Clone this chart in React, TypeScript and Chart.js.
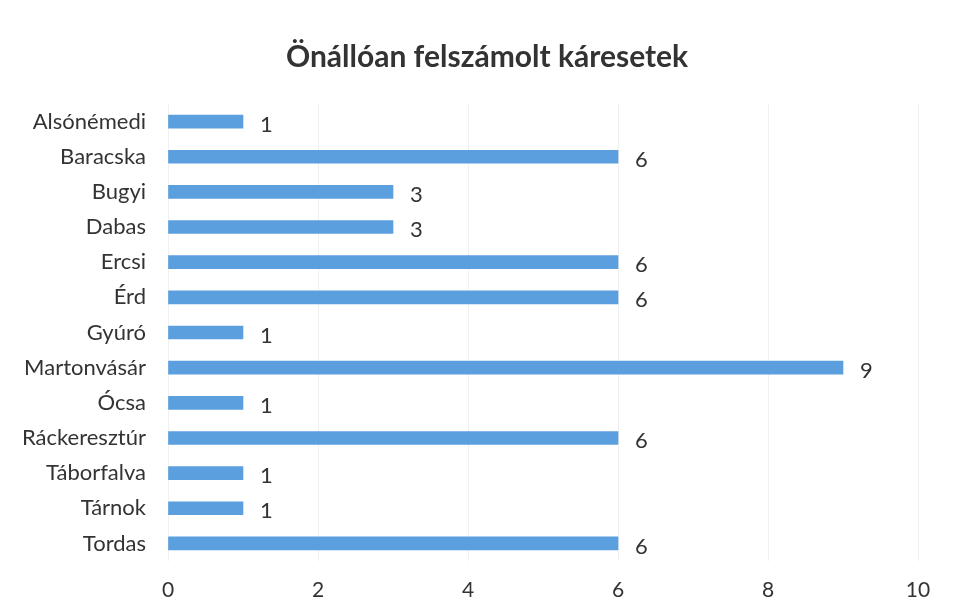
import React, { useEffect, useRef } from "react";
import { Chart, registerables } from "chart.js";

Chart.register(...registerables);

const title = "Önállóan felszámolt káresetek";
const categories = [
  "Alsónémedi",
  "Baracska",
  "Bugyi",
  "Dabas",
  "Ercsi",
  "Érd",
  "Gyúró",
  "Martonvásár",
  "Ócsa",
  "Ráckeresztúr",
  "Táborfalva",
  "Tárnok",
  "Tordas",
];
const values = [1, 6, 3, 3, 6, 6, 1, 9, 1, 6, 1, 1, 6];
const xTicks = [0, 2, 4, 6, 8, 10];

const FONT = "Lato, 'Open Sans', sans-serif";
const TEXT = "#333333";

const valueLabels = {
  id: "valueLabels",
  afterDatasetsDraw(chart: any) {
    const ctx = chart.ctx;
    const meta = chart.getDatasetMeta(0);
    ctx.save();
    ctx.font = `22px ${FONT}`;
    ctx.fillStyle = TEXT;
    ctx.textAlign = "left";
    ctx.textBaseline = "middle";
    meta.data.forEach((bar: any, i: number) => {
      ctx.fillText(String(values[i]), bar.x + 17, bar.y + 3);
    });
    ctx.restore();
  },
};

const titlePlugin = {
  id: "customTitle",
  afterDraw(chart: any) {
    const ctx = chart.ctx;
    ctx.save();
    ctx.font = `bold 30px ${FONT}`;
    ctx.fillStyle = TEXT;
    ctx.textAlign = "center";
    ctx.textBaseline = "middle";
    ctx.fillText(title, 487, 57);
    ctx.restore();
  },
};

export default function App() {
  const ref = useRef<HTMLCanvasElement>(null);
  useEffect(() => {
    if (!ref.current) return;
    const chart = new Chart(ref.current, {
      type: "bar",
      data: {
        labels: categories,
        datasets: [
          {
            data: values,
            backgroundColor: "#5B9FDF",
            borderWidth: 0,
            barThickness: 13,
          },
        ],
      },
      options: {
        indexAxis: "y",
        animation: false,
        responsive: false,
        maintainAspectRatio: false,
        layout: { padding: { left: 0, right: 42, top: 104, bottom: 0 } },
        plugins: {
          legend: { display: false },
          tooltip: { enabled: false },
          title: { display: false },
        },
        scales: {
          x: {
            min: 0,
            max: 10,
            afterBuildTicks: (scale: any) => {
              scale.ticks = xTicks.map((v) => ({ value: v }));
            },
            afterFit: (scale: any) => {
              scale.height = 50;
            },
            grid: { color: "#f0f0f0", drawTicks: false },
            border: { display: false },
            ticks: {
              color: TEXT,
              font: { family: FONT, size: 21 },
              padding: 17,
            },
          },
          y: {
            grid: { display: false },
            border: { display: false },
            afterFit: (scale: any) => {
              scale.width = 168;
            },
            ticks: {
              color: TEXT,
              font: { family: FONT, size: 22 },
              padding: 14,
              autoSkip: false,
            },
          },
        },
      },
      plugins: [valueLabels, titlePlugin],
    });
    return () => chart.destroy();
  }, []);
  return (
    <div style={{ position: "fixed", left: 0, top: 0, width: 960, height: 611, background: "#fff" }}>
      <canvas ref={ref} width={960} height={611} />
    </div>
  );
}
